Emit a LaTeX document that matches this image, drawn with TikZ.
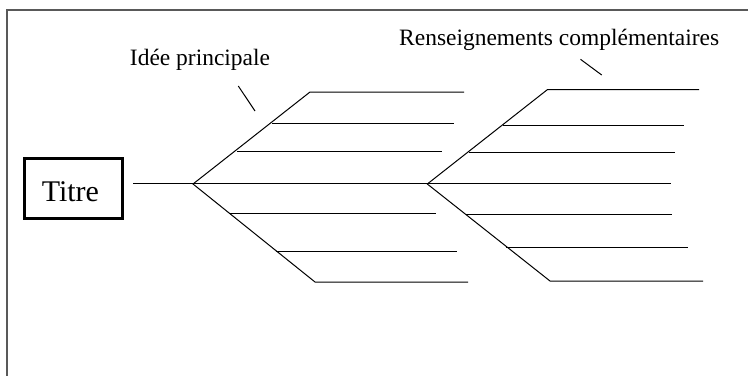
\documentclass[tikz,border=0pt]{standalone}
\usepackage{fontspec}
\setmainfont{Liberation Serif}
\begin{document}
\begin{tikzpicture}[x=0.75pt,y=-0.75pt,
  bone/.style={line width=0.75pt,black},
  frameline/.style={line width=1.5pt,black!65},
  titlebox/.style={draw,line width=2.25pt,minimum width=73.5pt,minimum height=45pt,inner sep=0pt},
  lbl/.style={font=\fontsize{17.6}{20}\selectfont,inner sep=0pt,anchor=base},
  ttl/.style={font=\fontsize{22.5}{26}\selectfont,inner sep=0pt,anchor=base}]
\useasboundingbox (0,0) rectangle (748,375);
% frame (clipped)
\coordinate (fbl) at (6.5,376);
\coordinate (ftl) at (6.5,9.5);
\coordinate (ftr) at (749,9.5);
\draw[frameline] (fbl) -- (ftl) -- (ftr);
% title
\node[titlebox] (titre) at (73.8,188.3) {};
\node[ttl] (titretxt) at (70.4,201.7) {Titre};
% spine
\coordinate (s0) at (133,183.7);
\coordinate (s1) at (670.7,183.7);
\draw[bone] (s0) -- (s1);
% fork 1
\coordinate (A) at (193,184);
\coordinate (U1) at (310,92);
\coordinate (U1e) at (464,92);
\coordinate (L1) at (315,282);
\coordinate (L1e) at (468,282);
\draw[bone] (U1e) -- (U1) -- (A) -- (L1) -- (L1e);
\coordinate (a1) at (272,123); \coordinate (a1e) at (454,123);
\coordinate (a2) at (237,151); \coordinate (a2e) at (442,151);
\coordinate (a3) at (229,213.7); \coordinate (a3e) at (436,213.7);
\coordinate (a4) at (275.5,251); \coordinate (a4e) at (457,251);
\draw[bone] (a1) -- (a1e);
\draw[bone] (a2) -- (a2e);
\draw[bone] (a3) -- (a3e);
\draw[bone] (a4) -- (a4e);
% fork 2
\coordinate (B) at (427.3,184);
\coordinate (U2) at (547.3,89.7);
\coordinate (U2e) at (699,89.7);
\coordinate (L2) at (550,281);
\coordinate (L2e) at (703,281);
\draw[bone] (U2e) -- (U2) -- (B) -- (L2) -- (L2e);
\coordinate (b1) at (503,125); \coordinate (b1e) at (684,125);
\coordinate (b2) at (469,152); \coordinate (b2e) at (675,152);
\coordinate (b3) at (466,214.3); \coordinate (b3e) at (671.7,214.3);
\coordinate (b4) at (506,247); \coordinate (b4e) at (688,247);
\draw[bone] (b1) -- (b1e);
\draw[bone] (b2) -- (b2e);
\draw[bone] (b3) -- (b3e);
\draw[bone] (b4) -- (b4e);
% labels
\node[lbl] (idee) at (200,65) {Idée principale};
\node[lbl] (rens) at (559.2,45) {Renseignements complémentaires};
\coordinate (t1a) at (238.3,86); \coordinate (t1b) at (255,111);
\coordinate (t2a) at (580.5,59.3); \coordinate (t2b) at (601.7,75);
\draw[bone] (t1a) -- (t1b);
\draw[bone] (t2a) -- (t2b);
\end{tikzpicture}
\end{document}
